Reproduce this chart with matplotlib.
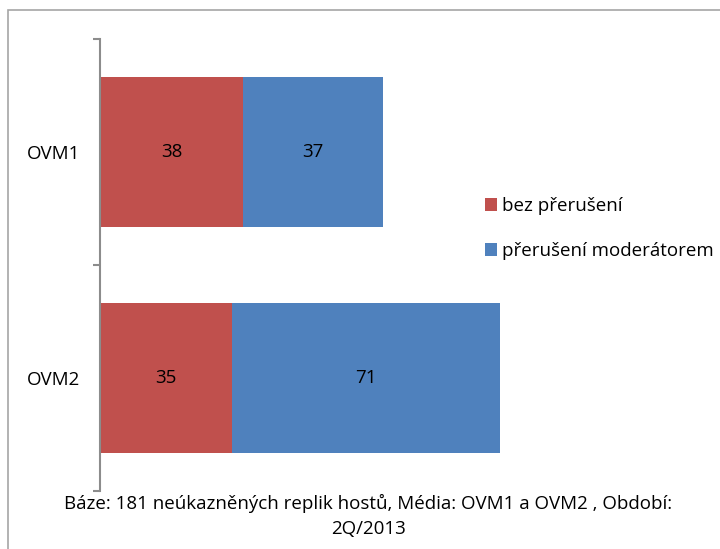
import matplotlib
matplotlib.use("Agg")
import matplotlib.pyplot as plt
from matplotlib.patches import Rectangle
import numpy as np

categories = ["OVM1", "OVM2"]
series_names = ["bez přerušení", "přerušení moderátorem"]
bez_preruseni = [38, 35]
preruseni_moderatorem = [37, 71]
colors = ["#C0504D", "#4F81BD"]
caption = "Báze: 181 neúkazněných replik hostů, Média: OVM1 a OVM2 , Období:\n2Q/2013"

plt.rcParams['font.family'] = ['Open Sans', 'DejaVu Sans']
FS = 13.5

W, H = 720, 549
fig = plt.figure(figsize=(W / 100, H / 100), dpi=100)

# outer frame (extends past right/bottom edges)
fig.patches.append(Rectangle((8 / W, -0.1), 1.2, 1 - 10 / H + 0.1, transform=fig.transFigure,
                             fill=False, edgecolor="#a6a6a6", linewidth=1.2))

left_px, right_px = 100, 690
top_px, bot_px = 39, 491
ax = fig.add_axes([left_px / W, 1 - bot_px / H, (right_px - left_px) / W, (bot_px - top_px) / H])

y = np.arange(len(categories))
bar_h = 150 / 226
scale = 3.77  # px per unit
ax.set_xlim(0, (right_px - left_px) / scale)
ax.set_ylim(len(categories) - 0.5, -0.5)

b1 = ax.barh(y, bez_preruseni, height=bar_h, color=colors[0], label=series_names[0])
b2 = ax.barh(y, preruseni_moderatorem, left=bez_preruseni, height=bar_h, color=colors[1],
             label=series_names[1])
for bars in (b1, b2):
    for r in bars:
        ax.text(r.get_x() + r.get_width() / 2, r.get_y() + r.get_height() / 2, f"{int(r.get_width())}",
                ha="center", va="center", fontsize=FS, color="black")

for s in ("top", "right", "bottom"):
    ax.spines[s].set_visible(False)
ax.spines["left"].set_color("#8c8c8c")
ax.spines["left"].set_linewidth(1.5)
ax.set_xticks([])
ax.set_yticks([-0.5, 0.5, 1.5])
ax.set_yticklabels([])
ax.tick_params(axis="y", which="major", length=5, width=1.5, color="#8c8c8c", direction="out")
ax.set_yticks(y, minor=True)
ax.set_yticklabels(categories, minor=True, fontsize=FS)
ax.tick_params(axis="y", which="minor", length=0, pad=14)

leg = fig.legend(handles=[b1, b2], labels=series_names, loc="upper left",
                 bbox_to_anchor=(485 / W, 1 - 197 / H), frameon=False, fontsize=FS,
                 handlelength=0.64, handleheight=0.64, handletextpad=0.27, labelspacing=1.45,
                 borderpad=0, borderaxespad=0)

fig.text(368 / W, 1 - 516 / H, caption, ha="center", va="center", fontsize=FS,
         linespacing=1.5)

fig.savefig("out.png", dpi=100)
